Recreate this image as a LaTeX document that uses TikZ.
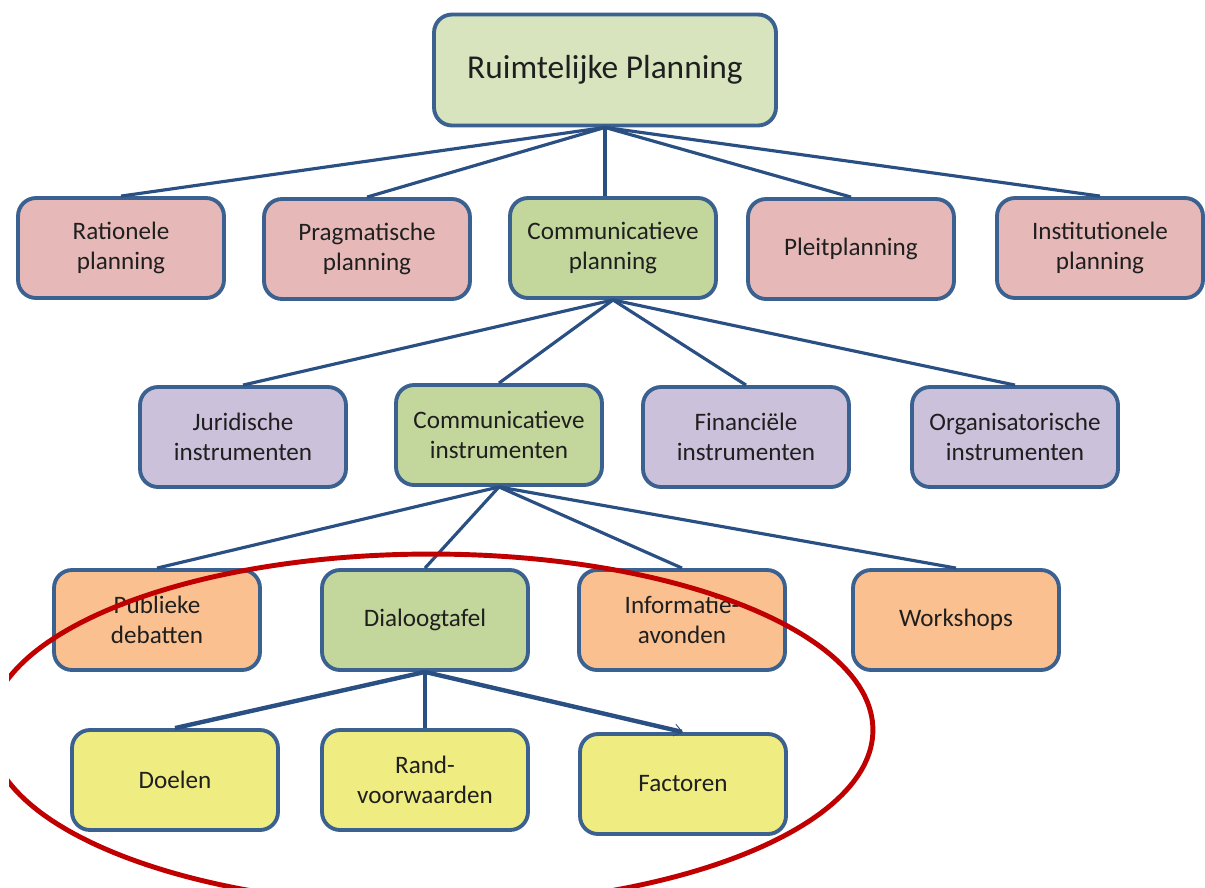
\documentclass[tikz,border=0pt]{standalone}
\usepackage{fontspec}
\setmainfont{Carlito}
\usepackage{tikz}
\usetikzlibrary{arrows.meta}
\definecolor{RandBlauw}{HTML}{3B6190}
\definecolor{LijnBlauw}{HTML}{2A4F82}
\definecolor{TopGroen}{HTML}{D7E4BD}
\definecolor{Groen}{HTML}{C3D69B}
\definecolor{Roze}{HTML}{E6B9B8}
\definecolor{Paars}{HTML}{CCC1DA}
\definecolor{Oranje}{HTML}{FAC090}
\definecolor{Geel}{HTML}{EFEC82}
\definecolor{Rood}{HTML}{C00000}

\begin{document}
\begin{tikzpicture}[x=0.02cm, y=-0.02cm,
    blok/.style={draw=RandBlauw, line width=2.2pt, rounded corners=0.36cm,
      minimum width=4.12cm, minimum height=2cm, align=center,
      text=black!88, font=\fontsize{14.3}{17}\selectfont},
    tak/.style={draw=LijnBlauw, line width=1.8pt}]
\useasboundingbox (0,0) rectangle (1205,887);

  % top
\node[blok, fill=TopGroen, minimum width=6.84cm, minimum height=2.22cm,
  font=\fontsize{19}{22}\selectfont] (ruimte) at (605,70) {Ruimtelijke Planning};

  % planning types
\node[blok, fill=Roze] (rationeel) at (121,248) {Rationele\\planning};
\node[blok, fill=Roze] (pragmatisch) at (367,249) {Pragmatische\\planning};
\node[blok, fill=Groen] (complan) at (613,248) {Communicatieve\\planning};
\node[blok, fill=Roze] (pleit) at (851,249) {Pleitplanning};
\node[blok, fill=Roze] (institutioneel) at (1100,248) {Institutionele\\planning};

  % instruments
\node[blok, fill=Paars] (juridisch) at (243,437) {Juridische\\instrumenten};
\node[blok, fill=Groen] (cominstr) at (499,435) {Communicatieve\\instrumenten};
\node[blok, fill=Paars] (financieel) at (746,437) {Financiële\\instrumenten};
\node[blok, fill=Paars] (organisatie) at (1015,437) {Organisatorische\\instrumenten};

  % communication forms
\node[blok, fill=Oranje] (debat) at (157,620) {Publieke\\debatten};
\node[blok, fill=Groen] (dialoog) at (425,620) {Dialoogtafel};
\node[blok, fill=Oranje] (info) at (682,620) {Informatie-\\avonden};
\node[blok, fill=Oranje] (workshop) at (956,620) {Workshops};

  % dialoogtafel
\node[blok, fill=Geel] (doelen) at (175,780) {Doelen};
\node[blok, fill=Geel] (rand) at (425,780) {Rand-\\voorwaarden};
\node[blok, fill=Geel] (factoren) at (683,784) {Factoren};

  % connectors
\foreach \kind in {rationeel, pragmatisch, pleit, institutioneel}
  \draw[tak] (ruimte.south) -- (\kind.north);
\draw[tak] (ruimte.south) -- (ruimte.south |- complan.north);
\foreach \kind in {juridisch, cominstr, financieel, organisatie}
  \draw[tak] (complan.south) -- (\kind.north);
\foreach \kind in {debat, dialoog, info, workshop}
  \draw[tak] (cominstr.south) -- (\kind.north);
\draw[tak, line width=2.5pt] (dialoog.south) -- (doelen.north);
\draw[tak, line width=2.5pt] (dialoog.south) -- (rand.north);
\draw[tak, line width=2.5pt, -{Straight Barb[length=1.6mm, width=2.4mm, line width=0.5pt]}]
  (dialoog.south) -- (factoren.north);

  % red ring
\begin{scope}
    \clip (9,0) rectangle (1205,887);
    \draw[Rood, line width=2.8pt] (431,730) ellipse[x radius=8.84cm, y radius=3.52cm];
\end{scope}

\end{tikzpicture}
\end{document}
